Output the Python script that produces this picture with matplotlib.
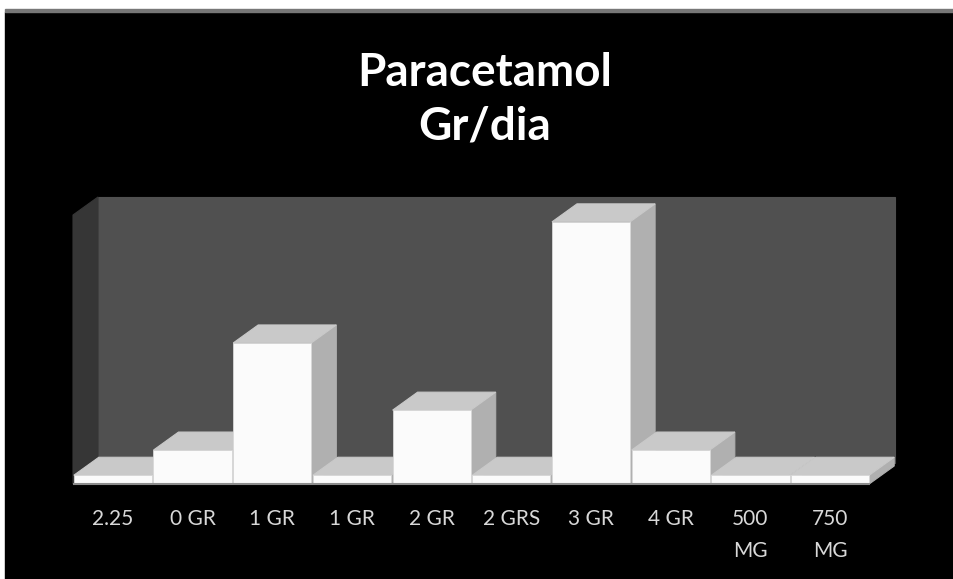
import matplotlib
matplotlib.use("Agg")
import matplotlib.pyplot as plt
from matplotlib.patches import Polygon, Rectangle

# valores
categorias = ["2.25", "0 GR", "1 GR", "1 GR", "2 GR", "2 GRS", "3 GR", "4 GR", "500\nMG", "750\nMG"]
valores = [0, 0.97, 4.03, 0, 2.11, 0, 7.49, 0.97, 0, 0]
titulo = "Paracetamol\nGr/dia"

W, H = 954, 579
PISO = 0.25     # barras en cero conservan un grosor
ANCHO = 0.98
DX = 25 / 79.7  # profundidad en unidades de x
DY = 18 / 35    # profundidad en unidades de y
YMAX = 269 / 35

FRENTE = "#fbfbfb"
TAPA = "#c9c9c9"
LADO = "#b0b0b0"

plt.rcParams['font.family'] = ['Lato', 'DejaVu Sans']

fig = plt.figure(figsize=(W / 100, H / 100), dpi=100, facecolor="white")
# fondo negro con la linea gris de arriba
fig.patches.append(Rectangle((5 / W, 0), 1, 1 - 12 / H, transform=fig.transFigure, color="black", zorder=-5))
fig.patches.append(Rectangle((5 / W, 1 - 12 / H), 1, 3 / H, transform=fig.transFigure, color="#777777", zorder=-5))

ax = fig.add_axes([73 / W, 1 - 484 / H, 797 / W, 269 / H])
ax.patch.set_alpha(0)
ax.set_xlim(-0.5, 9.5)
ax.set_ylim(0, YMAX)
for s in ax.spines.values():
    s.set_visible(False)


def poly(puntos, color, z, borde=None):
    ax.add_patch(Polygon(puntos, closed=True, facecolor=color, edgecolor=borde or color,
                         lw=0.8, zorder=z, clip_on=False))


# paredes
x0, x1 = -0.5, 9.5
poly([(x0 + DX, 0.6), (x1 + DX, 0.6), (x1 + DX, YMAX + DY), (x0 + DX, YMAX + DY)], "#505050", 1)
poly([(x0, 0), (x0 + DX, 0.6), (x0 + DX, YMAX + DY), (x0, YMAX)], "#363636", 1)

# barras, de izquierda a derecha para que se tapen bien
for i, v in enumerate(valores):
    a = i - ANCHO / 2
    b = i + ANCHO / 2
    h = max(v, PISO)
    z = 2 + i
    poly([(b, 0), (b + DX, DY), (b + DX, h + DY), (b, h)], LADO, z)
    poly([(a, h), (b, h), (b + DX, h + DY), (a + DX, h + DY)], TAPA, z)
    ax.bar(i, h, width=ANCHO, color=FRENTE, edgecolor="#d8d8d8", lw=0.6, zorder=z + 0.5, clip_on=False)

ax.plot([x0, x1], [0, 0], color="#8c8c8c", lw=1.5, zorder=20, clip_on=False, solid_capstyle="butt")

ax.set_xticks(range(len(categorias)))
ax.set_xticklabels(categorias, color="#d8d8d8", fontsize=15, linespacing=1.75)
ax.set_yticks([])
ax.tick_params(axis="x", length=0, pad=18)

fig.text(485 / W, 1 - 100 / H, titulo, color="white", fontsize=33, fontweight="bold",
         ha="center", va="center", linespacing=1.35)

fig.savefig("out.png", dpi=100, facecolor=fig.get_facecolor())
